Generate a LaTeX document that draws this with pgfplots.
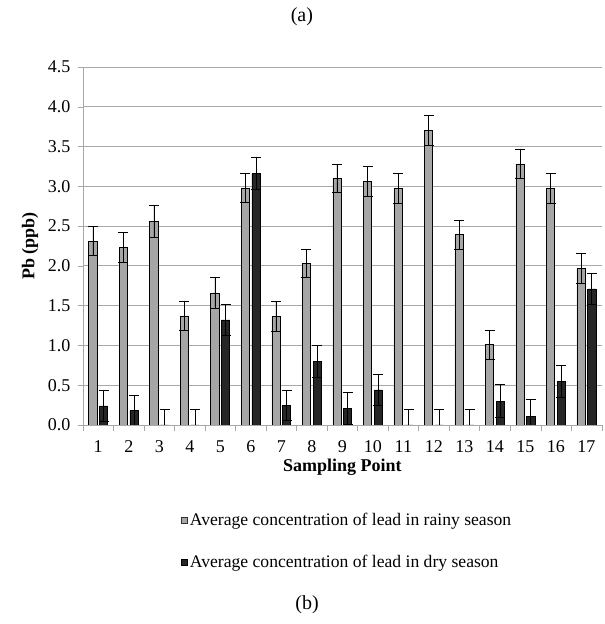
\documentclass[border=0pt]{standalone}
\usepackage{fontspec}
\setmainfont{Liberation Serif}
\usepackage{pgfplots}
\usepackage{pgfplotstable}
\pgfplotsset{compat=1.18}
\definecolor{rainy}{HTML}{A6A6A6}
\definecolor{dry}{HTML}{262626}
\definecolor{gridc}{HTML}{A8A8A8}
\pgfplotstableread{
x rainy re dry de
1 2.31 0.18 0.24 0.20
2 2.23 0.19 0.18 0.19
3 2.56 0.20 0 0.19
4 1.37 0.18 0 0.19
5 1.66 0.19 1.32 0.20
6 2.98 0.18 3.16 0.20
7 1.36 0.19 0.25 0.19
8 2.03 0.18 0.80 0.20
9 3.10 0.18 0.21 0.20
10 3.06 0.19 0.44 0.20
11 2.97 0.19 0 0.19
12 3.70 0.19 0 0.19
13 2.39 0.18 0 0.19
14 1.01 0.18 0.30 0.21
15 3.28 0.18 0.11 0.21
16 2.97 0.19 0.55 0.20
17 1.97 0.19 1.71 0.20
}\datatable
\begin{document}
\begin{tikzpicture}
\begin{axis}[
  scale only axis, width=389pt, height=268.5pt,
  xmin=0.5, xmax=17.5, ymin=0, ymax=4.5,
  xtick={1,...,17}, minor xtick={0.5,1.5,...,17.5},
  ytick={0,0.5,...,4.5},
  yticklabel style={xshift=-2pt, /pgf/number format/.cd, fixed, fixed zerofill, precision=1},
  /pgf/number format/assume math mode=true,
  tick label style={font=\fontsize{13.5}{15}\selectfont},
  xticklabel style={yshift=-4pt},
  axis x line*=bottom, axis y line*=left,
  axis line style={gridc, -},
  tick align=outside,
  major tick length=4pt, minor tick length=4.5pt,
  major x tick style={draw=none},
  minor x tick style={gridc},
  major y tick style={gridc},
  ymajorgrids, grid style={gridc, line width=0.6pt},
  ybar, bar width=6.2pt,
  clip mode=individual,
  ylabel={\bfseries Pb (ppb)},
  ylabel style={at={(rel axis cs:-0.102,0.5)}, anchor=center, font=\fontsize{13.5}{15}\selectfont},
  xlabel={\bfseries Sampling Point},
  xlabel style={at={(rel axis cs:0.5,-0.117)}, anchor=center, font=\fontsize{13.5}{15}\selectfont},
  legend style={at={(rel axis cs:0.188,-0.238)}, anchor=north west, draw=none, fill=none,
    row sep=17pt, font=\fontsize{13.2}{15}\selectfont, inner sep=0pt},
  legend cell align=left,
  error bars/error bar style={black, line width=0.6pt},
  error bars/error mark options={rotate=90, black, mark size=3.75pt, line width=0.6pt},
]
\addplot[fill=rainy, draw=black, line width=0.5pt, bar shift=-4pt,
  legend image code/.code={\draw[fill=rainy, draw=black!80, line width=0.4pt] (0pt,-2.2pt) rectangle (4.5pt,2.2pt);},
  error bars/.cd, y dir=both, y explicit]
  table[x=x, y=rainy, y error=re] {\datatable};
\addlegendentry{Average concentration of lead in rainy season}
\addplot[fill=dry, draw=black, line width=0.5pt, bar shift=4pt,
  legend image code/.code={\draw[fill=dry, draw=black, line width=0.4pt] (0pt,-2.2pt) rectangle (4.5pt,2.2pt);},
  error bars/.cd, y dir=both, y explicit]
  table[x=x, y=dry, y error=de] {\datatable};
\addlegendentry{Average concentration of lead in dry season}
\node at (rel axis cs:0.422,1.140) {\fontsize{15}{17}\selectfont (a)};
\node at (rel axis cs:0.432,-0.503) {\fontsize{15}{17}\selectfont (b)};
\path[draw=none] (rel axis cs:-0.16,1.187) rectangle (rel axis cs:1.0058,-0.556);
\end{axis}
\end{tikzpicture}
\end{document}
